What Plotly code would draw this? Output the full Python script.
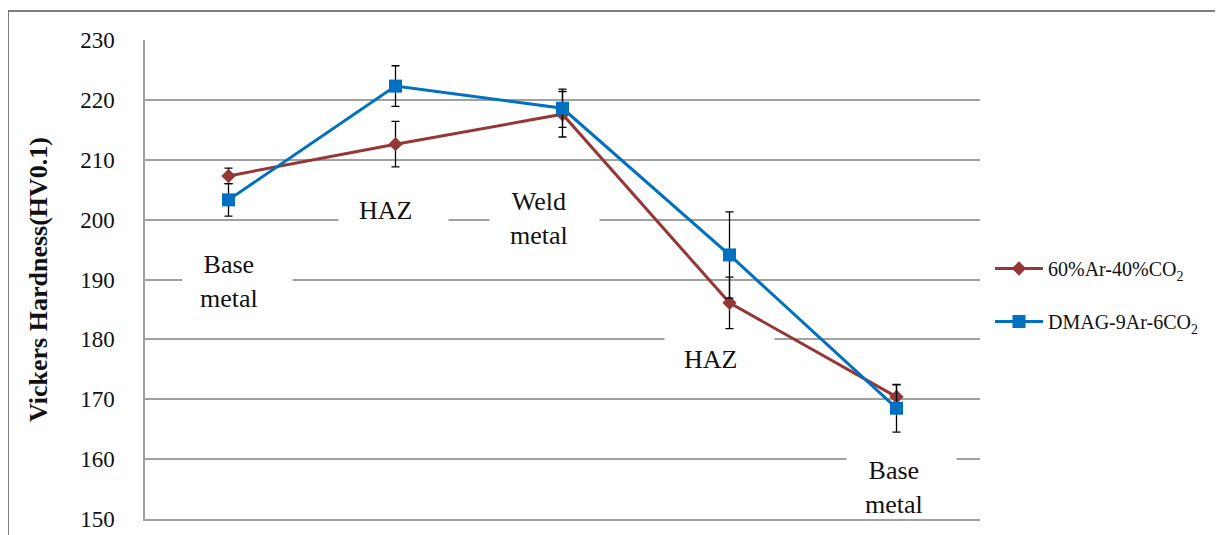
import plotly.graph_objects as go

# ---- data ----
categories = ["Base<br>metal", "HAZ", "Weld<br>metal", "HAZ", "Base<br>metal"]
series_names = ["60%Ar-40%CO<sub>2</sub>", "DMAG-9Ar-6CO<sub>2</sub>"]
red_values = [207.3, 212.6, 217.6, 186.1, 170.4]
red_errors = [1.3, 3.8, 3.8, 4.3, 2.0]
blue_values = [203.3, 222.3, 218.6, 194.1, 168.5]
blue_errors = [2.7, 3.4, 3.2, 7.2, 4.0]
y_ticks = [150, 160, 170, 180, 190, 200, 210, 220, 230]

# ---- layout helpers (label placement inside plot) ----
label_y = [189.7, 201.6, 200.25, 176.6, 155.2]
label_text_shift = [0, -10, -24, -19, -3]
label_box_shift = [9, -2, -18, -10, 5]
label_box_h = [70, 40, 70, 50, 70]

RED = "#953735"
BLUE = "#0070C0"
FONT = "Liberation Serif"
xpos = list(range(len(categories)))

fig = go.Figure()
fig.add_trace(go.Scatter(
    x=xpos, y=red_values, name=series_names[0], mode="lines+markers",
    line=dict(color=RED, width=3),
    marker=dict(symbol="diamond", size=11, color=RED),
    error_y=dict(type="data", array=red_errors, visible=True, color="black", thickness=1.3, width=4),
    legendgroup="a",
))
fig.add_trace(go.Scatter(
    x=xpos, y=blue_values, name=series_names[1], mode="lines+markers",
    line=dict(color=BLUE, width=3),
    marker=dict(symbol="square", size=13, color=BLUE),
    error_y=dict(type="data", array=blue_errors, visible=True, color="black", thickness=1.3, width=4),
    legendgroup="b",
))

# page body has an 8px margin: work in screen pixels and subtract it
OFF = 8
W, H = 1223 - OFF, 535 - OFF
L, T = 145 - OFF, 40 - OFF
R = W - (980 - OFF)
B = H - (519 - OFF)
pw, ph = W - L - R, H - T - B


def px_x(p):
    return (p - OFF - L) / pw


def px_y(p):
    return (H - B - (p - OFF)) / ph


shapes = []
# white label boxes (cut the gridlines like in the reference)
for i in range(len(categories)):
    shapes.append(dict(
        type="rect", xref="x", yref="y", xsizemode="pixel", ysizemode="pixel",
        xanchor=xpos[i], yanchor=label_y[i],
        x0=label_box_shift[i] - 55, x1=label_box_shift[i] + 55,
        y0=-label_box_h[i] / 2, y1=label_box_h[i] / 2,
        fillcolor="white", line=dict(width=0), layer="above",
    ))
# outer frame (top and left edges)
shapes += [
    dict(type="line", xref="paper", yref="paper", x0=px_x(8), x1=px_x(1223), y0=px_y(11), y1=px_y(11),
         line=dict(color="#555", width=1.5)),
    dict(type="line", xref="paper", yref="paper", x0=px_x(8), x1=px_x(8), y0=px_y(11), y1=px_y(535),
         line=dict(color="#555", width=1.5)),
]

annotations = []
for i, txt in enumerate(categories):
    annotations.append(dict(
        x=xpos[i], y=label_y[i], xref="x", yref="y", text=txt, showarrow=False,
        font=dict(family=FONT, size=26, color="#111"), xshift=label_text_shift[i],
    ))

fig.update_layout(
    width=W, height=H,
    margin=dict(l=L, r=R, t=T, b=B, autoexpand=False),
    plot_bgcolor="white", paper_bgcolor="white",
    font=dict(family=FONT, color="#111"),
    xaxis=dict(range=[-0.5, 4.5], showticklabels=False, showgrid=False, zeroline=False,
               showline=True, linecolor="#A0A0A0", linewidth=1.5, ticks="", automargin=False),
    yaxis=dict(range=[150, 230], tickvals=y_ticks, showgrid=True, gridcolor="#A0A0A0", gridwidth=1.5,
               zeroline=False, showline=True, linecolor="#A0A0A0", linewidth=1.5, automargin=False,
               tickfont=dict(family=FONT, size=23, color="#111"), ticklabelstandoff=24,
               title=dict(text="<b>Vickers Hardness(HV0.1)</b>", font=dict(family=FONT, size=26, color="#111"),
                          standoff=25)),
    legend=dict(x=px_x(990), xanchor="left", y=px_y(295), yanchor="middle",
                font=dict(family=FONT, size=20, color="#111"), traceorder="grouped",
                tracegroupgap=24, itemwidth=48, bgcolor="rgba(0,0,0,0)"),
    showlegend=True,
    annotations=annotations,
    shapes=shapes,
)

fig.write_html("out.html")
